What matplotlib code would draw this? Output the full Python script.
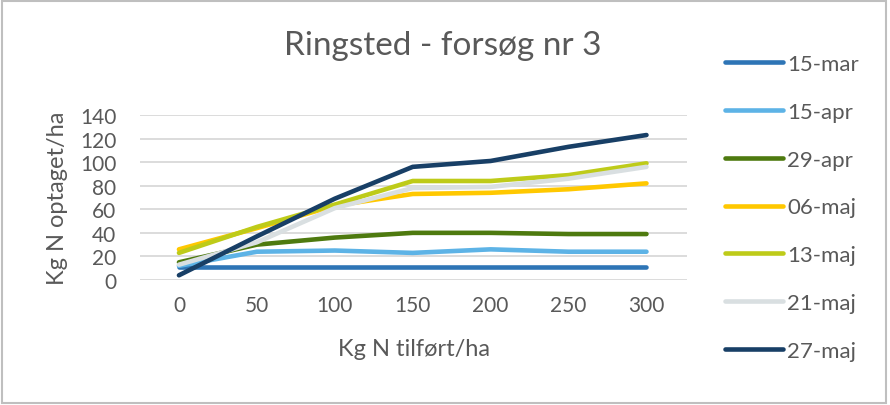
import matplotlib.pyplot as plt
from matplotlib.patches import Rectangle

plt.rcParams['font.family'] = ['Lato', 'DejaVu Sans']

# data
kg_n = [0, 50, 100, 150, 200, 250, 300]
mar15 = [11, 11, 11, 11, 11, 11, 11]
apr15 = [12, 24, 25, 23, 26, 24, 24]
apr29 = [15, 30, 36, 40, 40, 39, 39]
maj06 = [26, 44, 63, 73, 74, 77, 82]
maj13 = [23, 45, 64, 84, 84, 89, 99]
maj21 = [13, 32, 61, 78, 79, 86, 96]
maj27 = [4, 37, 69, 96, 101, 113, 123]

labels = ['15-mar', '15-apr', '29-apr', '06-maj', '13-maj', '21-maj', '27-maj']
series = [mar15, apr15, apr29, maj06, maj13, maj21, maj27]
colors = ['#2E75B6', '#5DB3E6', '#4E7A0F', '#FFC800', '#BECB19', '#D9DFE1', '#183F66']

txt = '#595959'
fig = plt.figure(figsize=(8.9, 4.06), dpi=100)
ax = fig.add_axes([140/890, 1-281/406, (687-140)/890, (281-116)/406])

for y, lab, c in zip(series, labels, colors):
    ax.plot(kg_n, y, color=c, lw=3.3, label=lab, solid_capstyle='round', solid_joinstyle='round')

ax.set_xlim(-25, 326)
ax.set_ylim(0, 140)
ax.set_xticks(kg_n)
ax.set_yticks(range(0, 141, 20))
ax.grid(axis='y', color='#D9D9D9', lw=1.3)
ax.set_axisbelow(True)
for s in ax.spines.values():
    s.set_visible(False)
ax.tick_params(length=0, labelsize=15, colors=txt)
ax.tick_params(axis='x', pad=11)
ax.tick_params(axis='y', pad=17)

ax.set_xlabel('Kg N tilført/ha', fontsize=17, color=txt, labelpad=16)
ax.set_ylabel('Kg N optaget/ha', fontsize=17, color=txt, labelpad=9)
fig.text(443/890, 1-46/406, 'Ringsted - forsøg nr 3', fontsize=24, color=txt,
         ha='center', va='center')

leg = ax.legend(loc='upper left', bbox_to_anchor=(725/890, 1-55/406),
                bbox_transform=fig.transFigure, frameon=False, fontsize=16,
                labelspacing=1.25, handlelength=2.6, handletextpad=0.2,
                borderpad=0, borderaxespad=0)
for t in leg.get_texts():
    t.set_color(txt)

fig.patches.append(Rectangle((0.002, 0.004), 0.994, 0.99, transform=fig.transFigure,
                             fill=False, edgecolor='#BFBFBF', lw=1.5))

fig.savefig('out.png', dpi=100)
